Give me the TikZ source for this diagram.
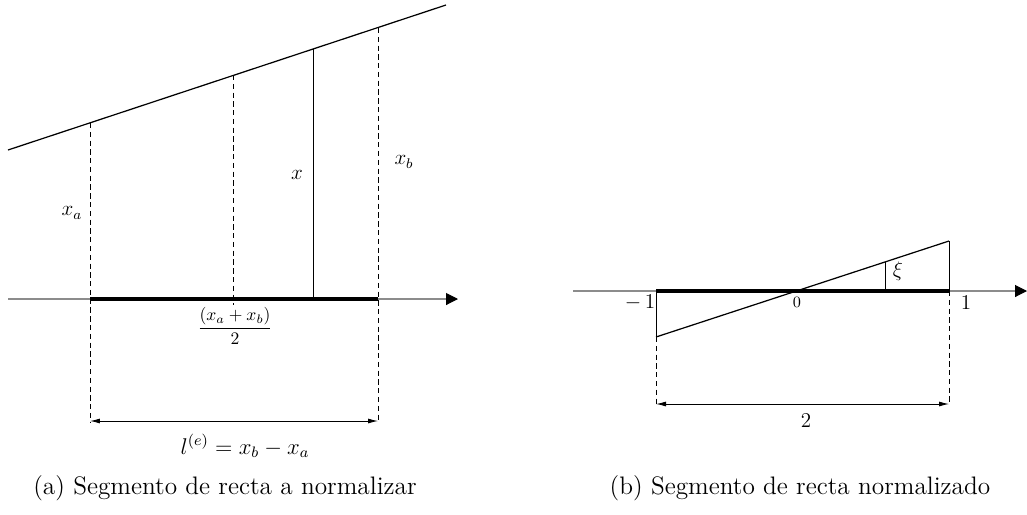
\documentclass[tikz,border=0pt]{standalone}
\usepackage{amsmath}
\usetikzlibrary{arrows.meta, positioning}

\begin{document}
\begin{tikzpicture}[
    x=0.02cm, y=-0.02cm,
    axis/.style={-{Triangle[length=2.4mm, width=2.4mm, black]}, draw=gray!90, line width=0.6pt},
    segment/.style={line width=2.4pt},
    slope/.style={line width=0.7pt},
    guide/.style={dash pattern=on 3pt off 2pt, line width=0.4pt},
    dimline/.style={{Latex[length=2mm, width=1mm]}-{Latex[length=2mm, width=1mm]}, line width=0.5pt},
    lbl/.style={inner sep=1pt, font=\large},
    caption/.style={font=\Large},
]
\useasboundingbox (0,0) rectangle (1027,514);

% Left: segment to normalize
\coordinate (axL0) at (8,299);
\coordinate (axL1) at (458,299);
\coordinate (a0) at (90,299);
\coordinate (m0) at (233,305);
\coordinate (p0) at (313,299);
\coordinate (b0) at (378,299);
\coordinate (top0) at (8,150);
\coordinate (top1) at (446,5);
\coordinate (a1) at (90,123);
\coordinate (m1) at (233,75);
\coordinate (p1) at (313,49);
\coordinate (b1) at (378,28);
\coordinate (a2) at (90,422);
\coordinate (b2) at (378,422);
\coordinate (a3) at (90,421);
\coordinate (b3) at (378,421);

\draw[axis] (axL0) -- (axL1);
\draw[segment] (a0) -- (b0);
\draw[slope] (top0) -- (top1);
\draw[guide] (a1) -- (a2);
\draw[guide] (m1) -- (m0);
\draw[guide] (b1) -- (b2);
\draw[line width=0.5pt] (p1) -- (p0);
\draw[dimline] (a3) -- (b3);

\node[lbl] (xa) at (72,213) {$x_a$};
\node[lbl] (xp) at (297,175) {$x$};
\node[lbl] (xb) at (404,162) {$x_b$};
\node[inner sep=1pt] (mid) at (235,326) {$\dfrac{(x_a+x_b)}{2}$};
\node[lbl, scale=1.08] (len) at (245,446) {$l^{(e)} = x_b - x_a$};

% Right: normalized segment
\coordinate (axR0) at (573,291);
\coordinate (axR1) at (1027,291);
\coordinate (n0) at (656,291);
\coordinate (q0) at (885,291);
\coordinate (u0) at (949,291);
\coordinate (n1) at (656,337);
\coordinate (q1) at (885,262);
\coordinate (u1) at (949,241);
\coordinate (n2) at (656,405);
\coordinate (u2) at (949,405);
\coordinate (n3) at (656,404);
\coordinate (u3) at (949,404);

\draw[axis] (axR0) -- (axR1);
\draw[segment] (n0) -- (u0);
\draw[slope] (n1) -- (u1);
\draw[line width=0.5pt] (n0) -- (n1);
\draw[line width=0.5pt] (u1) -- (u0);
\draw[line width=0.5pt] (q1) -- (q0);
\draw[guide] (n1) -- (n2);
\draw[guide] (u0) -- (u2);
\draw[dimline] (n3) -- (u3);

\node[lbl] (mone) at (640,303) {$-\,1$};
\node[inner sep=1pt, font=\small] (zero) at (797,302) {$0$};
\node[lbl] (one) at (966,303) {$1$};
\node[lbl] (xi) at (898,271) {$\xi$};
\node[lbl] (two) at (806,421) {$2$};

% captions
\node[caption] (capa) at (225,488) {(a) Segmento de recta a normalizar};
\node[caption] (capb) at (800,488) {(b) Segmento de recta normalizado};
\end{tikzpicture}
\end{document}
